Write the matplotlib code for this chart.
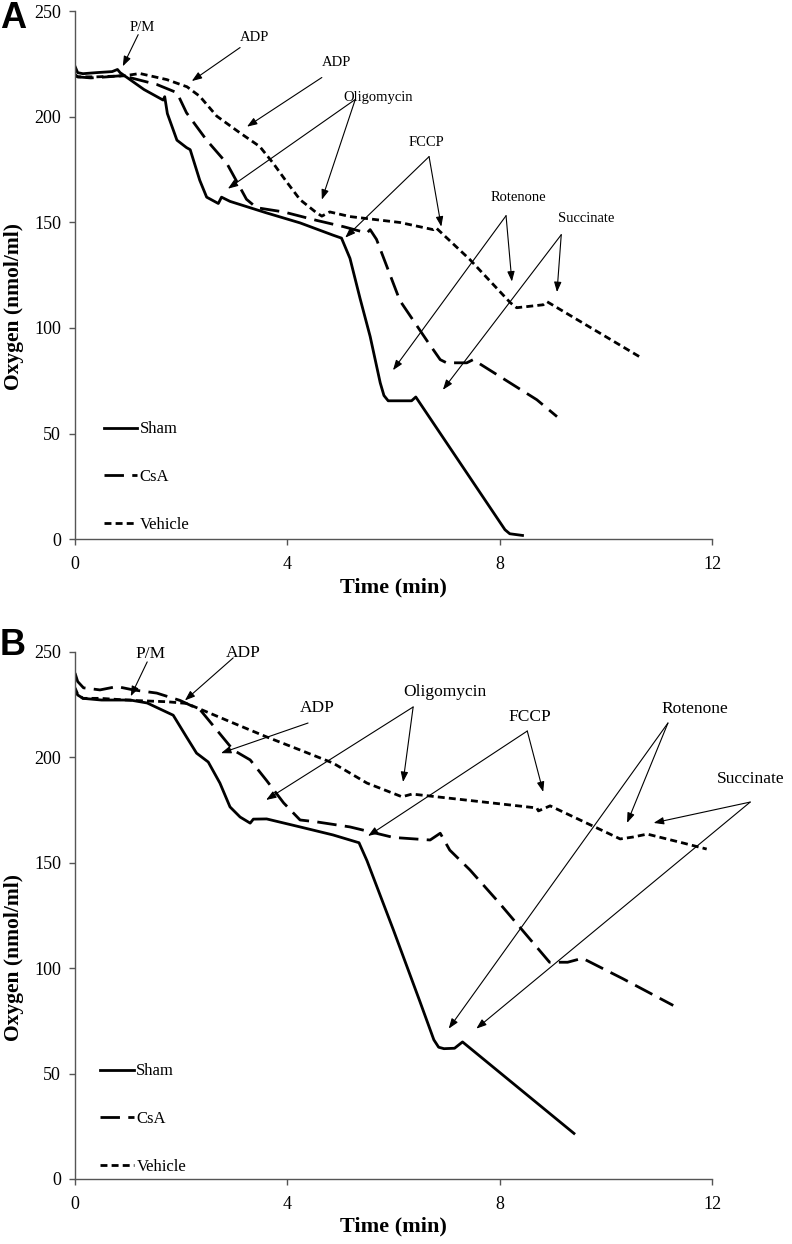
import matplotlib
matplotlib.use("Agg")
import matplotlib.pyplot as plt
from matplotlib.lines import Line2D

plt.rcParams['font.family'] = ['Liberation Serif', 'DejaVu Serif']

# ---- Panel A ----
a_sham_t = [0, 0.05, 0.15, 0.4, 0.7, 0.8, 0.85, 0.98, 1.3, 1.66, 1.69, 1.74, 1.92, 2.1, 2.17, 2.35,
            2.48, 2.7, 2.76, 2.92, 3.6, 4.24, 4.86, 5.02, 5.18, 5.37, 5.56, 5.75, 5.82, 5.9, 6.34,
            6.42, 8.1, 8.19, 8.43]
a_sham_y = [224, 221, 220.5, 221, 221.5, 222.5, 221, 218.7, 213, 208, 209.6, 201.6, 189, 185.5, 184.5,
            170, 162, 159, 162, 160, 154.6, 149.8, 144, 142.6, 133, 114, 96, 74, 68, 65.5, 65.5,
            67.3, 4.4, 2.5, 1.7]
a_csa_t = [0, 0.05, 0.3, 0.6, 0.85, 0.98, 1.54, 1.92, 2.1, 2.48, 2.86, 3.1, 3.23, 3.42, 3.93, 4.55,
           5.06, 5.5, 5.56, 5.68, 6.12, 6.63, 6.88, 7.0, 7.38, 7.5, 8.7, 9.08]
a_csa_y = [220, 219, 218.5, 219, 219.5, 219, 215.4, 211.5, 202, 189, 178, 167, 161, 157, 155, 151,
           148, 145, 146.6, 142, 113, 94, 85, 83.5, 83.5, 85, 66, 58]
a_veh_t = [0, 0.05, 0.4, 0.93, 1.22, 1.73, 2.11, 2.35, 2.67, 3.1, 3.48, 3.73, 4.0, 4.24, 4.55, 4.65,
           4.8, 5.18, 6.12, 6.75, 6.8, 7.44, 8.2, 8.32, 8.82, 8.89, 10.64]
a_veh_y = [220, 219, 219, 219.5, 220.6, 217.7, 214.3, 209.8, 200.4, 192.6, 186, 178.2, 168.8, 160.8,
           154.6, 153, 155, 152.8, 150, 146.6, 147.5, 132.4, 112, 109.6, 111, 112.5, 86.3]

# label, text position, arrow start, arrow targets
a_notes = [
    ("P/M", (1.26, 242.6), (1.19, 239.0), [(0.9, 224)]),
    ("ADP", (3.39, 237.6), (3.11, 232.9), [(2.2, 217)]),
    ("ADP", (4.93, 225.8), (4.65, 218.7), [(3.24, 195.4)]),
    ("Oligomycin", (5.71, 209.2), (5.28, 208.3), [(2.88, 166), (4.65, 160.8)]),
    ("FCCP", (6.63, 187.9), (6.67, 181.2), [(5.09, 142.8), (6.9, 148)]),
    ("Rotenone", (8.35, 162), (8.12, 153.2), [(5.99, 80), (8.23, 122)]),
    ("Succinate", (9.63, 152), (9.16, 144.2), [(6.93, 70.7), (9.08, 117)]),
]

# ---- Panel B ----
b_sham_t = [0, 0.05, 0.15, 0.5, 1.04, 1.36, 1.85, 2.1, 2.29, 2.51, 2.73, 2.92, 3.11, 3.3, 3.36, 3.61,
            4.24, 4.86, 5.35, 5.5, 6.0, 6.5, 6.76, 6.85, 6.95, 7.15, 7.3, 9.4]
b_sham_y = [232, 229.6, 228, 227.2, 227.2, 225.8, 220, 209.7, 202, 197.8, 187.8, 176.5, 171.7, 168.8,
            170.7, 170.8, 167, 163.2, 159.5, 151, 118, 84, 66, 62.5, 61.8, 62, 65, 21.6]
b_csa_t = [0, 0.05, 0.16, 0.47, 0.79, 1.1, 1.54, 1.98, 2.36, 2.67, 2.98, 3.3, 3.61, 3.93, 4.24, 4.55,
           5.18, 6.0, 6.69, 6.88, 7.06, 7.44, 7.99, 8.94, 9.28, 9.56, 10.32, 11.27]
b_csa_y = [240, 236, 233, 232, 233.6, 232, 230.5, 227, 222.5, 213, 203.5, 198.8, 189, 178.4, 170.3,
           169.4, 167, 162, 160.8, 164, 156, 146.6, 131, 102.8, 102.8, 104.7, 95, 82.3]
b_veh_t = [0, 0.05, 0.15, 0.47, 1.1, 1.73, 2.1, 2.48, 2.98, 3.61, 4.24, 4.86, 5.5, 6.16, 6.35, 8.7,
           8.73, 8.95, 10.27, 10.51, 10.78, 11.45, 11.9]
b_veh_y = [233, 230, 228, 228, 227, 226.4, 225.6, 221.6, 216.3, 209.7, 203.5, 197.3, 187.8, 181.3,
           182.6, 176, 174.6, 177, 161.3, 162.2, 163.6, 159.4, 156.5]

b_notes = [
    ("P/M", (1.43, 249), (1.36, 245.3), [(1.05, 229)]),
    ("ADP", (3.17, 249.5), (2.98, 247.2), [(2.07, 227)]),
    ("ADP", (4.56, 223.4), (4.39, 216.3), [(2.75, 202)]),
    ("Oligomycin", (6.97, 231), (6.37, 223.9), [(3.6, 179.8), (6.18, 188.3)]),
    ("FCCP", (8.57, 219), (8.52, 212.5), [(5.52, 162.7), (8.82, 183.6)]),
    ("Rotenone", (11.68, 223), (11.17, 216.3), [(10.4, 168.9), (7.04, 71.3)]),
    ("Succinate", (12.72, 189.8), (12.72, 178.8), [(10.9, 168.9), (7.56, 71.3)]),
]

x_ticks = [0, 4, 8, 12]
y_ticks = [0, 50, 100, 150, 200, 250]

csa_dash = (7, 3)
veh_dash = (2.5, 1.5)


def draw_panel(ax, sham, csa, veh, notes, note_size, ylab_y, leg_anchor):
    ax.plot(sham[0], sham[1], color='black', lw=2.0, label='Sham')
    ax.plot(csa[0], csa[1], color='black', lw=2.0, dashes=csa_dash, label='CsA')
    ax.plot(veh[0], veh[1], color='black', lw=2.0, dashes=veh_dash, label='Vehicle')

    for label, txy, start, targets in notes:
        ax.text(txy[0], txy[1], label, ha='center', va='center', fontsize=note_size)
        for tgt in targets:
            ax.annotate('', xy=tgt, xytext=start,
                        arrowprops=dict(arrowstyle='-|>,head_length=0.6,head_width=0.22',
                                        color='black', lw=0.8, shrinkA=0, shrinkB=0),
                        annotation_clip=False)

    ax.set_xlim(0, 12)
    ax.set_ylim(0, 250)
    ax.set_xticks(x_ticks)
    ax.set_yticks(y_ticks)
    for s in ['top', 'right']:
        ax.spines[s].set_visible(False)
    for s in ['left', 'bottom']:
        ax.spines[s].set_color('#555555')
        ax.spines[s].set_linewidth(1.0)
    ax.tick_params(direction='out', length=4, width=1, color='#555555', labelsize=13)
    ax.tick_params(axis='x', pad=8)
    ax.tick_params(axis='y', pad=6)

    ax.set_xlabel('Time (min)', fontsize=16, fontweight='bold')
    ax.xaxis.set_label_coords(0.5, -0.072)
    ax.set_ylabel('Oxygen (nmol/ml)', fontsize=15.5, fontweight='bold')
    ax.yaxis.set_label_coords(-0.08, ylab_y)

    handles = [Line2D([], [], color='black', lw=2.0),
               Line2D([], [], color='black', lw=2.0, dashes=csa_dash),
               Line2D([], [], color='black', lw=2.0, dashes=veh_dash)]
    ax.legend(handles, ['Sham', 'CsA', 'Vehicle'], loc='lower left', bbox_to_anchor=leg_anchor,
              frameon=False, fontsize=12, handlelength=2.0, handletextpad=0.15,
              labelspacing=1.9, borderpad=0, borderaxespad=0)


fig = plt.figure(figsize=(7.92, 12.44), dpi=100)
ax_a = fig.add_axes([0.0947, 0.5667, 0.8043, 0.4241])
ax_b = fig.add_axes([0.0947, 0.0523, 0.8043, 0.4236])

draw_panel(ax_a, (a_sham_t, a_sham_y), (a_csa_t, a_csa_y), (a_veh_t, a_veh_y),
           a_notes, 10.5, 0.44, (0.045, 0.012))
draw_panel(ax_b, (b_sham_t, b_sham_y), (b_csa_t, b_csa_y), (b_veh_t, b_veh_y),
           b_notes, 12.5, 0.42, (0.04, 0.008))

letter_font = ['Liberation Sans', 'DejaVu Sans']
fig.text(0.0, 1 - 1 / 1244, 'A', fontsize=26, fontweight='bold', family=letter_font,
         ha='left', va='top')
fig.text(0.0, 1 - 628 / 1244, 'B', fontsize=26, fontweight='bold', family=letter_font,
         ha='left', va='top')

fig.savefig('out.png', dpi=100)
